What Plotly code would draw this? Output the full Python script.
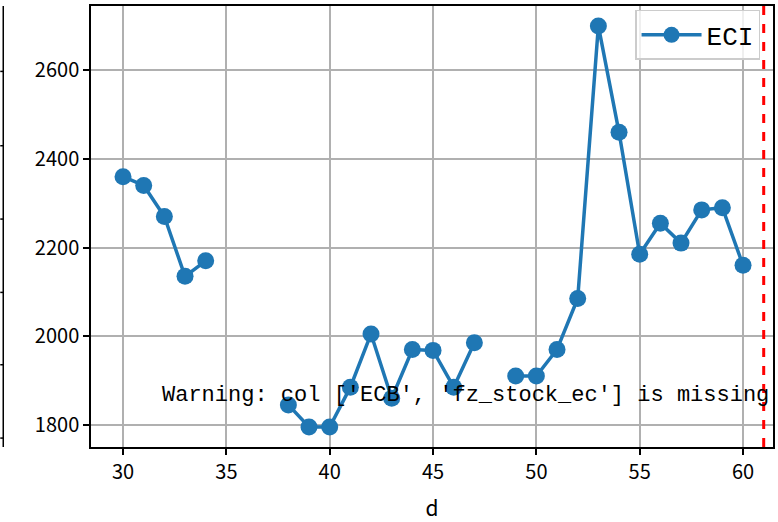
import plotly.graph_objects as go

days = list(range(30, 61))
eci = [2360, 2340, 2270, 2135, 2170, None, None, None,
       1845, 1795, 1795, 1885, 2005, 1860, 1970, 1968, 1885, 1985, None,
       1910, 1910, 1970, 2085, 2700, 2460, 2185, 2255, 2210, 2285, 2290, 2160]
series_name = "ECI"
cutoff_day = 61
warning_text = "Warning: col ['ECB', 'fz_stock_ec'] is missing"
x_ticks = [30, 35, 40, 45, 50, 55, 60]
y_ticks = [1800, 2000, 2200, 2400, 2600]

W, H = 778, 522
ML, MR, MT, MB = 91, 3, 6, 71
pw = W - ML - MR

fig = go.Figure()
fig.add_trace(go.Scatter(
    x=days, y=eci, name=series_name, mode="lines+markers",
    connectgaps=False,
    line=dict(color="#1f77b4", width=3.5),
    marker=dict(color="#1f77b4", size=17),
))

fig.add_shape(type="line", xref="x", yref="paper", x0=cutoff_day, x1=cutoff_day,
              y0=0, y1=1, line=dict(color="red", width=3, dash="dash"))

# partial frame of neighbouring subplot at far left
xl = (3 - ML) / pw
fig.add_shape(type="line", xref="paper", yref="paper", x0=xl, x1=xl, y0=0, y1=1,
              line=dict(color="black", width=1.5))
for py in [72, 147, 221, 295, 368, 442]:
    yp = 1 - (py - MT) / (H - MT - MB)
    fig.add_shape(type="line", xref="paper", yref="paper",
                  x0=(0 - ML) / pw, x1=xl, y0=yp, y1=yp,
                  line=dict(color="black", width=1.5))

fig.add_annotation(x=31.8, y=1867, xref="x", yref="y", text=warning_text,
                   showarrow=False, xanchor="left", yanchor="middle",
                   font=dict(family="Liberation Mono", size=22, color="black"))

axis_common = dict(showline=True, linecolor="black", linewidth=1.5, mirror=True,
                   showgrid=True, gridcolor="#b0b0b0", gridwidth=1.5,
                   ticks="outside", ticklen=6, tickwidth=1.5, tickcolor="black",
                   zeroline=False,
                   tickfont=dict(family="Noto Sans CJK JP", size=20, color="black"))

fig.update_xaxes(range=[28.45, 61.45], tickvals=x_ticks,
                 title=dict(text="d", font=dict(family="Noto Sans CJK JP", size=21, color="black"),
                            standoff=20),
                 **axis_common)
fig.update_yaxes(range=[1750, 2745], tickvals=y_ticks, **axis_common)

fig.update_layout(
    width=W, height=H,
    margin=dict(l=ML, r=MR, t=MT, b=MB),
    plot_bgcolor="white", paper_bgcolor="white",
    showlegend=True,
    legend=dict(x=0.981, y=0.991, xanchor="right", yanchor="top",
                bgcolor="rgba(255,255,255,0.8)", bordercolor="#cccccc", borderwidth=1.5,
                font=dict(family="Liberation Mono", size=26, color="black"),
                itemwidth=60),
)

fig.write_html("out.html", config={"displayModeBar": False},
               post_script="document.body.style.margin='0px';document.body.style.padding='0px';")
